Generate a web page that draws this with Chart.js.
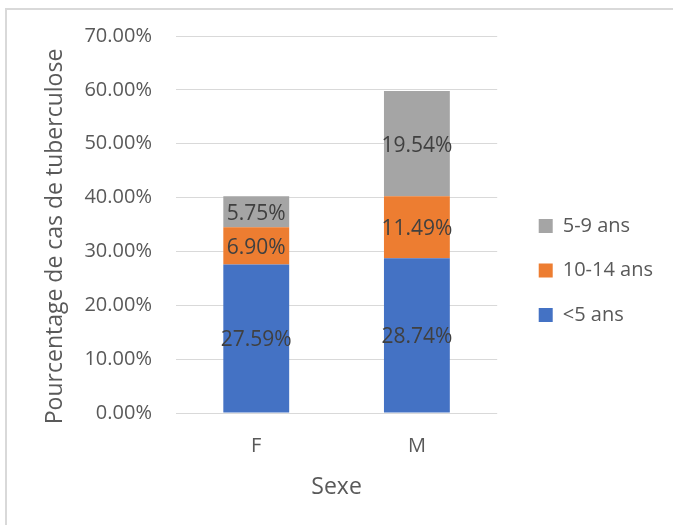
<!DOCTYPE html>
<html lang="fr">
<head>
<meta charset="utf-8">
<title>Pourcentage de cas de tuberculose par sexe</title>
<script src="https://cdn.jsdelivr.net/npm/chart.js@4.4.1/dist/chart.umd.min.js"></script>
<style>
  html, body { margin: 0; padding: 0; background: #ffffff; overflow: hidden; }
  #frame {
    position: absolute; left: 5px; top: 8px; width: 720px; height: 560px;
    border-top: 2px solid #d9d9d9; border-left: 2px solid #d9d9d9;
  }
  #wrap { position: absolute; left: 0; top: 0; width: 673px; height: 525px; }
</style>
</head>
<body>
<div id="frame"></div>
<div id="wrap"><canvas id="chart"></canvas></div>
<script>
// Categories and series (percent of tuberculosis cases)
const categories = ['F', 'M'];
const seriesNames = ['<5 ans', '10-14 ans', '5-9 ans'];
const under5 = [27.59, 28.74];
const age10to14 = [6.90, 11.49];
const age5to9 = [5.75, 19.54];
const seriesColors = ['#4472C4', '#ED7D31', '#A5A5A5'];
const yTicks = [0, 10, 20, 30, 40, 50, 60, 70];

const FONT = "'Open Sans', 'DejaVu Sans', sans-serif";
Chart.defaults.font.family = FONT;
Chart.defaults.color = '#595959';

// Writes each segment's value in the middle of its bar piece
const segmentLabels = {
  id: 'segmentLabels',
  afterDatasetsDraw(chart) {
    const ctx = chart.ctx;
    ctx.save();
    ctx.font = '21px ' + FONT;
    ctx.fillStyle = '#404040';
    ctx.textAlign = 'center';
    ctx.textBaseline = 'middle';
    chart.data.datasets.forEach((ds, i) => {
      const meta = chart.getDatasetMeta(i);
      meta.data.forEach((bar, j) => {
        const v = ds.data[j];
        const yMid = (bar.y + bar.base) / 2 + 2;
        ctx.fillText(v.toFixed(2) + '%', bar.x, yMid);
      });
    });
    ctx.restore();
  }
};

const seriesData = [under5, age10to14, age5to9];

function build() {
  new Chart(document.getElementById('chart'), {
    type: 'bar',
    data: {
      labels: categories,
      datasets: seriesNames.map((name, i) => ({
        label: name,
        data: seriesData[i],
        backgroundColor: seriesColors[i],
        borderWidth: 0,
        barPercentage: 0.41,
        categoryPercentage: 1.0
      }))
    },
    options: {
      responsive: true,
      maintainAspectRatio: false,
      animation: false,
      layout: { padding: { left: 40, top: 32, bottom: 16, right: 10 } },
      scales: {
        x: {
          stacked: true,
          grid: { display: false, drawTicks: false },
          border: { display: false },
          ticks: { font: { size: 20 }, color: '#595959', padding: 21, maxRotation: 0 },
          title: {
            display: true, text: 'Sexe', color: '#595959',
            font: { size: 23 }, padding: { top: -5.8, bottom: 8.2 }
          }
        },
        y: {
          stacked: true,
          min: 0, max: 70,
          afterBuildTicks(scale) { scale.ticks = yTicks.map(v => ({ value: v })); },
          grid: { color: '#d9d9d9', lineWidth: 1, drawTicks: false },
          border: { display: false },
          ticks: {
            font: { size: 20 }, color: '#595959', padding: 24,
            callback: v => Number(v).toFixed(2) + '%'
          },
          title: {
            display: true,
            text: 'Pourcentage de cas de tuberculose\u00a0\u00a0\u00a0\u00a0',
            color: '#595959',
            font: { size: 23 }, padding: { top: 2, bottom: -9.2 }
          }
        },
        // empty strip between the plot and the legend
        gap: {
          position: 'right',
          display: false,
          afterFit(scale) { scale.width = 17; }
        }
      },
      plugins: {
        legend: {
          position: 'right',
          reverse: true,
          labels: {
            boxWidth: 14, boxHeight: 14, padding: 24.5,
            color: '#595959', font: { size: 20 }
          }
        },
        tooltip: { enabled: false }
      }
    },
    plugins: [segmentLabels]
  });
}

// Make sure the installed face is ready before text is measured
Promise.all([
  document.fonts.load("20px 'Open Sans'"),
  document.fonts.load("23px 'Open Sans'")
]).then(build, build);
</script>
</body>
</html>
